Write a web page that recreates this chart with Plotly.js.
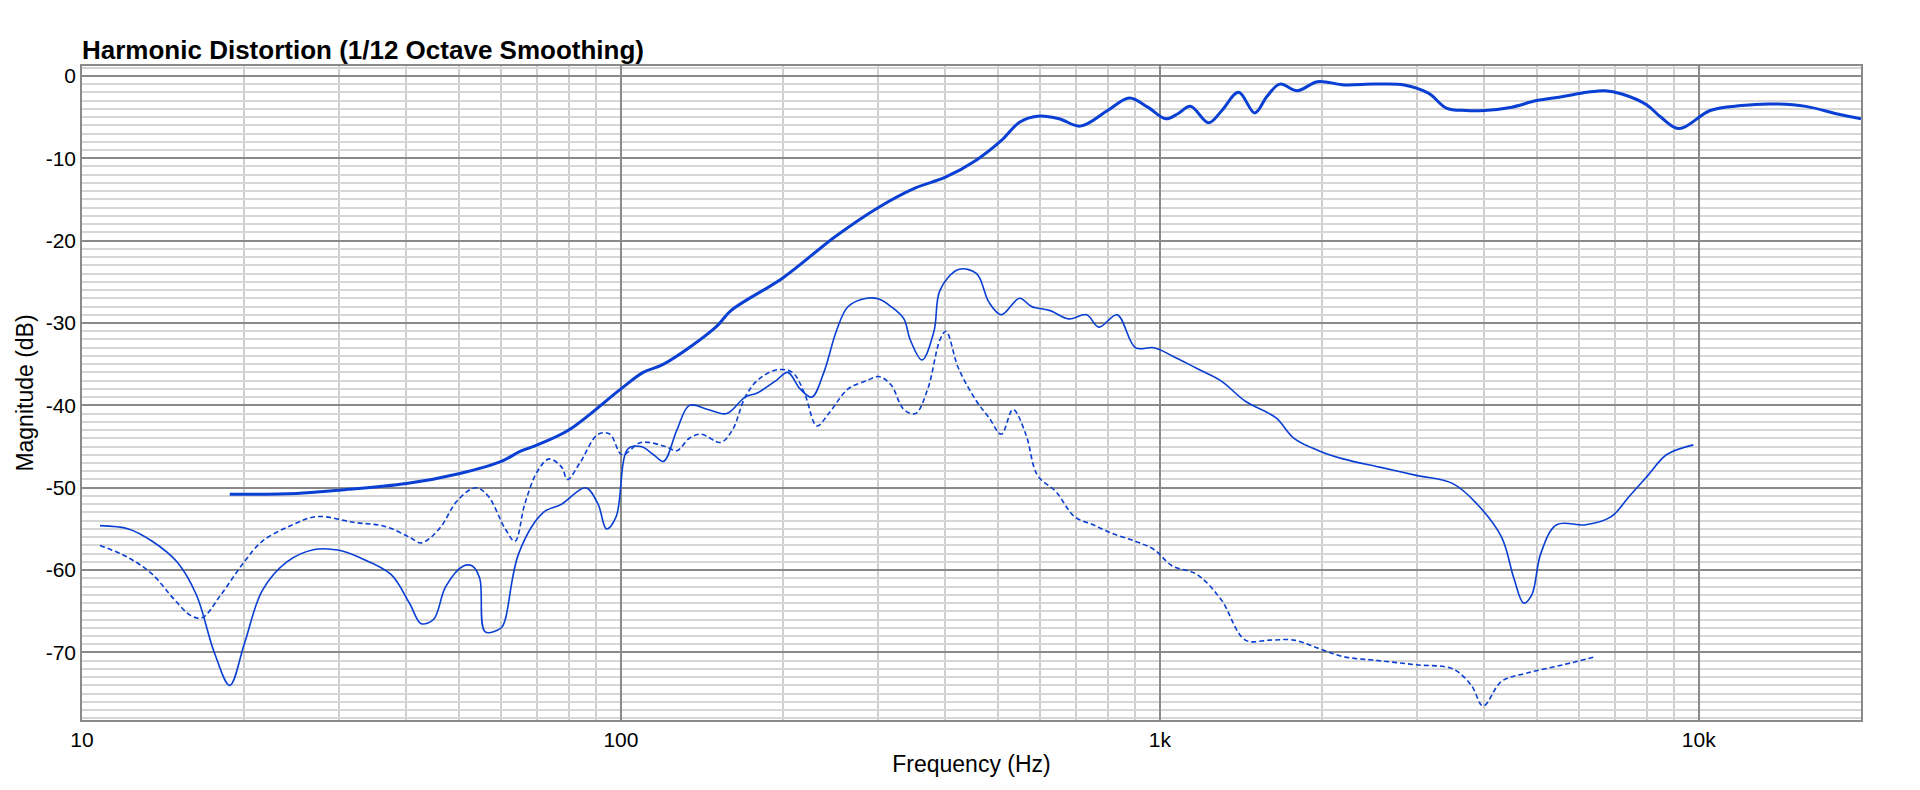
<!DOCTYPE html>
<html>
<head>
<meta charset="utf-8">
<script src="https://cdn.plot.ly/plotly-3.0.1.min.js"></script>
<style>body{margin:0;background:#fff}#chart{width:1920px;height:790px}</style>
</head>
<body>
<div id="chart"></div>
<script>
// Fundamental
const fundFreq = [18.8, 25, 30, 40, 50, 60, 65, 70, 80, 100, 110, 120, 150, 160, 200, 250, 300, 352, 400, 457, 507, 550, 593, 650, 712, 800, 878, 950, 1026, 1080, 1140, 1231, 1300, 1400, 1500, 1580, 1670, 1800, 1960, 2200, 2500, 2840, 3150, 3400, 3700, 4000, 4500, 5000, 5600, 6200, 6700, 7200, 8000, 8500, 9200, 10500, 12000, 13500, 15800, 18000, 20000];
const fundDb = [-50.8, -50.7, -50.3, -49.5, -48.3, -46.8, -45.6, -44.8, -43, -38, -36, -35, -30.5, -28.5, -24.5, -19.5, -16, -13.6, -12.3, -10.2, -7.9, -5.6, -4.9, -5.2, -6.1, -4.2, -2.7, -3.8, -5.2, -4.6, -3.7, -5.7, -4.3, -2, -4.5, -2.5, -1, -1.8, -0.7, -1.1, -1, -1.1, -2.1, -3.9, -4.2, -4.2, -3.8, -3, -2.5, -2, -1.8, -2.2, -3.5, -5, -6.4, -4.2, -3.6, -3.4, -3.7, -4.6, -5.2];

// Solid harmonic
const h2Freq = [10.8, 12.2, 13.5, 15, 16.3, 17.6, 18.8, 20, 21.6, 24, 27, 30, 32.8, 37.4, 40.5, 42.6, 44.9, 47.3, 51, 53, 54.7, 56, 60, 61, 64.6, 71.8, 77.6, 86, 90.7, 94, 98, 103, 109, 115, 120, 127, 134, 145, 157, 170, 179, 194, 204, 215, 226, 238, 251, 264, 286, 301, 317, 335, 344, 362, 381, 391, 423, 457, 482, 508, 549, 578, 626, 677, 731, 771, 833, 901, 975, 1055, 1170, 1297, 1441, 1641, 1774, 1971, 2188, 2558, 2992, 3498, 3881, 4306, 4539, 4731, 4900, 5091, 5448, 6170, 6880, 7440, 8050, 8710, 9770];
const h2Db = [-54.6, -55, -56.5, -59, -63, -70, -74, -69, -62.5, -59, -57.5, -57.6, -58.5, -60.5, -64, -66.5, -66, -62, -59.5, -59.5, -61, -67.5, -67, -66, -58, -53, -52, -50, -52, -55, -53.5, -45.3, -45, -46, -46.8, -43, -40, -40.5, -41, -39, -38.5, -37, -36, -38, -39, -36, -31, -28, -27, -27.1, -28, -29.5, -32, -34.5, -31, -26, -23.5, -24, -27.5, -29, -27, -28, -28.5, -29.5, -29, -30.5, -29, -33, -33, -34, -35.5, -37, -39.5, -41.5, -44, -45.5, -46.5, -47.5, -48.5, -49.5, -52, -56, -61, -64, -63, -58, -54.5, -54.5, -53.5, -51, -48.5, -46, -44.8];

// Dashed harmonic
const h3Freq = [10.8, 12.2, 13.5, 14.8, 15.9, 16.7, 18.1, 20, 21.6, 24.6, 27.3, 31.9, 36.5, 40.5, 42.6, 46, 49.8, 53.8, 56.7, 61, 63.6, 66.3, 70, 73.6, 77.6, 79.6, 83.9, 90.7, 95.4, 100.5, 109, 121, 127, 134, 141, 153, 161, 170, 179, 194, 208, 219, 231, 243, 264, 286, 301, 317, 335, 352, 371, 391, 401, 423, 457, 482, 508, 534, 564, 593, 642, 694, 752, 812, 901, 975, 1055, 1170, 1297, 1441, 1600, 1774, 1971, 2188, 2558, 2992, 3498, 3785, 3980, 4306, 4800, 5600, 6440];
const h3Db = [-57, -58.5, -60.5, -63.5, -65.5, -65.8, -63, -59, -56.5, -54.5, -53.5, -54.2, -54.7, -56, -56.7, -55, -51.5, -50, -51, -55, -56.5, -52, -48, -46.5, -47.5, -49, -47, -43.5, -43.5, -46, -44.5, -45, -45.5, -44, -43.5, -44.5, -43, -39, -37, -35.7, -36, -38.5, -42.5, -41, -38, -37, -36.5, -37.5, -40.5, -41, -38, -32, -31, -35.5, -39.5, -41.5, -43.5, -40.5, -43.5, -48.5, -50.5, -53.5, -54.5, -55.5, -56.5, -57.5, -59.5, -60.5, -63.5, -68.5, -68.5, -68.5, -69.5, -70.5, -71, -71.5, -72, -74, -76.5, -73.5, -72.5, -71.5, -70.5];

const tickVals = [10, 100, 1000, 10000];
const tickText = ['10', '100', '1k', '10k'];
const yTickVals = [0, -10, -20, -30, -40, -50, -60, -70];
const yTickText = ['0', '-10', '-20', '-30', '-40', '-50', '-60', '-70'];
const blue = '#0a3fd3';

const traces = [
    {x: fundFreq, y: fundDb, mode: 'lines', line: {color: blue, width: 3, shape: 'spline'}},
    {x: h2Freq, y: h2Db, mode: 'lines', line: {color: blue, width: 1.6, shape: 'spline'}},
    {x: h3Freq, y: h3Db, mode: 'lines', line: {color: blue, width: 1.6, dash: '5px,3px', shape: 'spline'}}
];

const layout = {
    width: 1920, height: 790,
    margin: {l: 82, r: 59, t: 66, b: 70},
    showlegend: false,
    paper_bgcolor: '#fff', plot_bgcolor: '#fff',
    font: {family: 'Liberation Sans, Arial, sans-serif', size: 21, color: '#000'},
    title: {text: '<b>Harmonic Distortion (1/12 Octave Smoothing)</b>', xref: 'paper', xanchor: 'left',
            x: 0, y: 0.925, yanchor: 'bottom', font: {size: 26}},
    xaxis: {
        type: 'log', range: [1, Math.log10(20000)],
        tickvals: tickVals, ticktext: tickText, ticks: '',
        title: {text: 'Frequency (Hz)', font: {size: 23}, standoff: 6},
        showgrid: true, gridcolor: '#8a8a8a', gridwidth: 1.5,
        minor: {showgrid: true, gridcolor: '#cfcfcf', dtick: 'D1', ticks: ''},
        showline: true, linecolor: '#8a8a8a', linewidth: 1.5, mirror: true, zeroline: false
    },
    yaxis: {
        range: [-78.2, 1.2], tickvals: yTickVals, ticktext: yTickText, ticks: '',
        title: {text: 'Magnitude (dB)', font: {size: 23}, standoff: 6},
        showgrid: true, gridcolor: '#8a8a8a', gridwidth: 1.5,
        minor: {showgrid: true, gridcolor: '#d6d6d6', dtick: 1, ticks: ''},
        showline: true, linecolor: '#8a8a8a', linewidth: 1.5, mirror: true, zeroline: false
    }
};

Plotly.newPlot('chart', traces, layout, {displayModeBar: false});
</script>
</body>
</html>
